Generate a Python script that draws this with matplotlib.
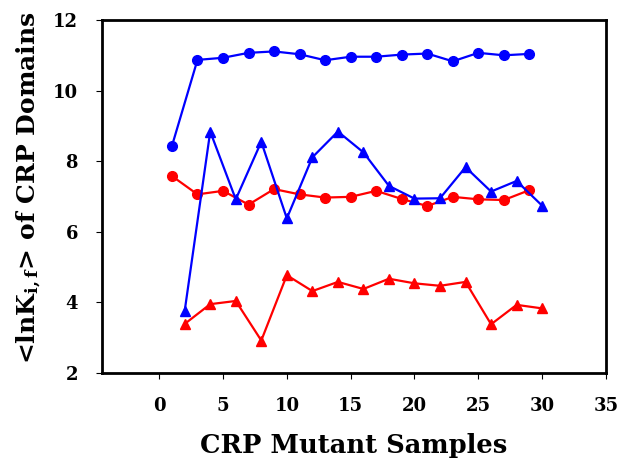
import matplotlib
matplotlib.use("Agg")
import matplotlib.pyplot as plt

plt.rcParams['font.family'] = ['DejaVu Serif']
plt.rcParams['mathtext.fontset'] = 'dejavuserif'

x_odd = [1, 3, 5, 7, 9, 11, 13, 15, 17, 19, 21, 23, 25, 27, 29]
blue_circles = [8.43, 10.87, 10.93, 11.07, 11.11, 11.03, 10.86, 10.96, 10.96, 11.02, 11.05, 10.83, 11.07, 11.0, 11.04]
red_circles = [7.58, 7.06, 7.16, 6.77, 7.21, 7.06, 6.97, 6.99, 7.16, 6.93, 6.73, 6.99, 6.92, 6.90, 7.18]

x_even = [2, 4, 6, 8, 10, 12, 14, 16, 18, 20, 22, 24, 26, 28, 30]
blue_triangles = [3.76, 8.84, 6.92, 8.55, 6.38, 8.11, 8.84, 8.25, 7.30, 6.94, 6.95, 7.83, 7.14, 7.44, 6.74]
red_triangles = [3.39, 3.95, 4.04, 2.92, 4.77, 4.32, 4.58, 4.38, 4.67, 4.54, 4.47, 4.58, 3.38, 3.93, 3.83]

x_ticks = [0, 5, 10, 15, 20, 25, 30, 35]
y_ticks = [2, 4, 6, 8, 10, 12]

fig = plt.figure(figsize=(6.21, 4.59), dpi=100)
ax = fig.add_axes([0.1638, 0.1874, 0.812, 0.769])

ax.plot(x_odd, blue_circles, color='#0000ff', marker='o', markersize=7, linewidth=1.6)
ax.plot(x_odd, red_circles, color='#ff0000', marker='o', markersize=7, linewidth=1.6)
ax.plot(x_even, blue_triangles, color='#0000ff', marker='^', markersize=7.5, linewidth=1.6)
ax.plot(x_even, red_triangles, color='#ff0000', marker='^', markersize=7.5, linewidth=1.6)

ax.set_xlim(-4.5, 35)
ax.set_ylim(2, 12)
ax.set_xticks(x_ticks)
ax.set_yticks(y_ticks)
for s in ax.spines.values():
    s.set_linewidth(2)
ax.tick_params(direction='out', length=4, width=0.8, pad=13, labelsize=13)
for lab in ax.get_xticklabels() + ax.get_yticklabels():
    lab.set_fontweight('bold')

ax.set_xlabel('CRP Mutant Samples', fontsize=18.5, fontweight='bold', labelpad=13)
ax.set_ylabel(r'<lnK$_{\mathbf{i,f}}$> of CRP Domains', fontsize=18, fontweight='bold')
ax.yaxis.set_label_coords(-0.116, 0.525)

fig.savefig('out.png', dpi=100)
